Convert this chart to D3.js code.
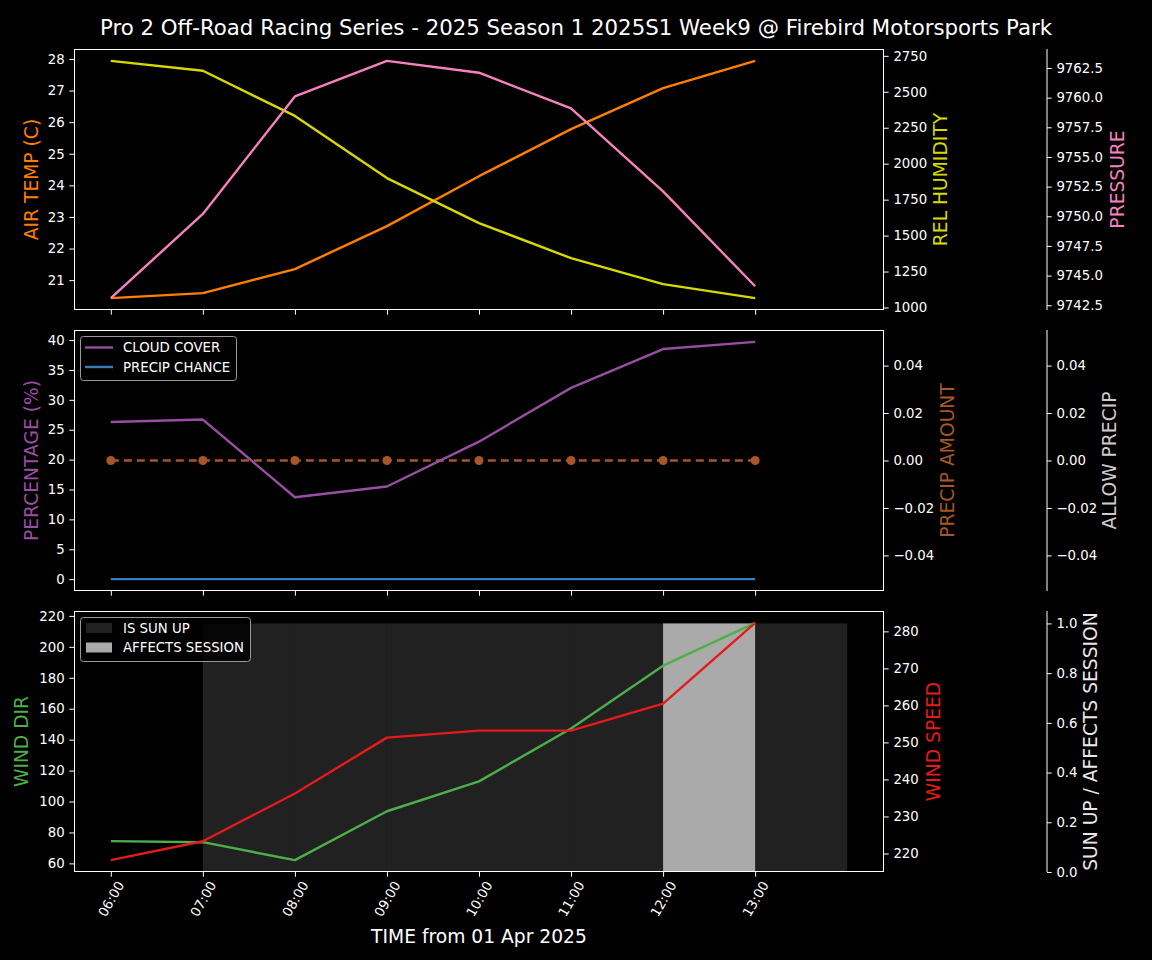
<!DOCTYPE html>
<html>
<head>
<meta charset="utf-8">
<script src="https://cdn.jsdelivr.net/npm/d3@7"></script>
<style>
  html, body { margin: 0; padding: 0; background: #000; }
  svg { display: block; }
  text { font-family: "DejaVu Sans", sans-serif; }
</style>
</head>
<body>
<svg id="chart" width="1152" height="960"></svg>
<script>
// ---------- data ----------
const hours = ["06:00","07:00","08:00","09:00","10:00","11:00","12:00","13:00"];
const airTemp = [20.43, 20.59, 21.35, 22.71, 24.29, 25.78, 27.08, 27.94];
const relHumidity = [2715, 2646, 2332, 1900, 1587, 1343, 1162, 1065];
const pressure = [9743.1, 9750.2, 9760.1, 9763.1, 9762.1, 9759.1, 9752.1, 9744.1];
const cloudCover = [26.3, 26.7, 13.7, 15.5, 23.0, 32.0, 38.5, 39.7];
const precipChance = [0, 0, 0, 0, 0, 0, 0, 0];
const precipAmount = [0, 0, 0, 0, 0, 0, 0, 0];
const windDir = [74.4, 73.7, 62.1, 93.7, 113.0, 147.2, 187.8, 215.5];
const windSpeed = [218.2, 223.3, 236.2, 251.3, 253.2, 253.2, 260.5, 282.3];
const sunUp = [0, 1, 1, 1, 1, 1, 1, 1];
const affectsSession = [0, 0, 0, 0, 0, 0, 1, 0];

const tempTicks = [21, 22, 23, 24, 25, 26, 27, 28];
const humidityTicks = [1000, 1250, 1500, 1750, 2000, 2250, 2500, 2750];
const pressureTicks = [9742.5, 9745, 9747.5, 9750, 9752.5, 9755, 9757.5, 9760, 9762.5];
const pctTicks = [0, 5, 10, 15, 20, 25, 30, 35, 40];
const precipTicks = [-0.04, -0.02, 0, 0.02, 0.04];
const windDirTicks = [60, 80, 100, 120, 140, 160, 180, 200, 220];
const windSpeedTicks = [220, 230, 240, 250, 260, 270, 280];
const sunTicks = [0, 0.2, 0.4, 0.6, 0.8, 1.0];

const title = "Pro 2 Off-Road Racing Series - 2025 Season 1 2025S1 Week9 @ Firebird Motorsports Park";
const xLabel = "TIME from 01 Apr 2025";

// ---------- colours ----------
const C = {
  temp: "#ff7f00", hum: "#d8d800", pres: "#f781bf",
  cloud: "#984ea3", pchance: "#377eb8", pamount: "#a65628", allow: "#cccccc",
  wdir: "#4daf4a", wspd: "#e41a1c", sun: "#212121", sess: "#aaaaaa", fg: "#ffffff"
};

// ---------- layout ----------
const L = 74, R = 884, AX3 = 1047;
const panelH = 261;
const tops = [49, 330, 611];
const idx = hours.map((d, i) => i);
const LW = 2.4, TICKFS = 13.3, LABFS = 18.7;

const svg = d3.select("#chart");
svg.append("rect").attr("width", 1152).attr("height", 960).attr("fill", "#000");

const x = d3.scaleLinear().domain([-0.4, hours.length + 0.4]).range([L, R]);

function padDomain(arrs, lo0) {
  const all = arrs.flat();
  let mn = d3.min(all), mx = d3.max(all);
  if (lo0 !== undefined) { mn = lo0; }
  if (mn === mx) { mn -= 0.05; mx += 0.05; }
  const m = (mx - mn) * 0.05;
  return [lo0 !== undefined ? lo0 : mn - m, mx + m];
}

const TL = 4.7, TP = 4.7;
function styleAxis(g) {
  g.selectAll(".tick line").attr("stroke", C.fg).attr("stroke-width", 1);
  g.selectAll(".tick text").attr("fill", C.fg).attr("font-size", TICKFS).attr("font-family", "DejaVu Sans");
  g.select(".domain").remove();
}

function ylabel(text, cx, cy, color) {
  svg.append("text").text(text)
    .attr("transform", `translate(${cx},${cy}) rotate(-90)`)
    .attr("text-anchor", "middle").attr("dy", "0.35em")
    .attr("font-size", LABFS).attr("fill", color);
}

function line(g, data, y, color, extra) {
  const p = g.append("path").datum(idx)
    .attr("d", d3.line().x(i => x(i)).y(i => y(data[i])))
    .attr("fill", "none").attr("stroke", color).attr("stroke-width", LW)
    .attr("stroke-linejoin", "round");
  if (extra) extra(p);
  return p;
}

function panelFrame(top, yl, ylTicks, ylFmt, yr, yrTicks, yrFmt, y3, y3Ticks, y3Fmt, showX) {
  const bottom = top + panelH;
  const gL = svg.append("g").attr("transform", `translate(${L},0)`)
    .call(d3.axisLeft(yl).tickValues(ylTicks).tickFormat(ylFmt).tickSize(TL).tickPadding(TP));
  styleAxis(gL);
  const gR = svg.append("g").attr("transform", `translate(${R},0)`)
    .call(d3.axisRight(yr).tickValues(yrTicks).tickFormat(yrFmt).tickSize(TL).tickPadding(TP));
  styleAxis(gR);
  const g3 = svg.append("g").attr("transform", `translate(${AX3},0)`)
    .call(d3.axisRight(y3).tickValues(y3Ticks).tickFormat(y3Fmt).tickSize(TL).tickPadding(TP));
  styleAxis(g3);
  svg.append("line").attr("x1", AX3).attr("x2", AX3).attr("y1", top).attr("y2", bottom)
    .attr("stroke", C.fg).attr("stroke-width", 1);
  const gx = svg.append("g").attr("transform", `translate(0,${bottom})`)
    .call(d3.axisBottom(x).tickValues(idx).tickFormat(showX ? (i => hours[i]) : () => "").tickSize(TL).tickPadding(TP));
  styleAxis(gx);
  if (showX) {
    gx.selectAll(".tick text")
      .attr("text-anchor", "middle")
      .attr("y", 0).attr("dy", 0)
      .attr("dominant-baseline", "central")
      .attr("transform", "translate(0,27) rotate(-60)");
  }
}

function frameBox(top) {
  svg.append("rect").attr("x", L + 0.5).attr("y", top + 0.5)
    .attr("width", R - L - 1).attr("height", panelH - 1)
    .attr("fill", "none").attr("stroke", C.fg).attr("stroke-width", 1);
}

// ---------- title ----------
svg.append("text").text(title).attr("x", 576).attr("y", 35)
  .attr("text-anchor", "middle").attr("font-size", 21.3).attr("fill", C.fg);

// ---------- panel 1 ----------
{
  const top = tops[0], bottom = top + panelH;
  const yT = d3.scaleLinear().domain(padDomain([airTemp])).range([bottom, top]);
  const yH = d3.scaleLinear().domain(padDomain([relHumidity])).range([bottom, top]);
  const yP = d3.scaleLinear().domain(padDomain([pressure])).range([bottom, top]);
  panelFrame(top, yT, tempTicks, d3.format("d"), yH, humidityTicks, d3.format("d"), yP, pressureTicks, d3.format(".1f"), false);
  const g = svg.append("g");
  line(g, airTemp, yT, C.temp);
  line(g, relHumidity, yH, C.hum);
  line(g, pressure, yP, C.pres);
  frameBox(top);
  const cy = top + panelH / 2;
  ylabel("AIR TEMP (C)", 31, cy, C.temp);
  ylabel("REL HUMIDITY", 940, cy, C.hum);
  ylabel("PRESSURE", 1117, cy, C.pres);
}

// ---------- panel 2 ----------
{
  const top = tops[1], bottom = top + panelH;
  const yC = d3.scaleLinear().domain(padDomain([cloudCover, precipChance])).range([bottom, top]);
  const yA = d3.scaleLinear().domain(padDomain([precipAmount])).range([bottom, top]);
  panelFrame(top, yC, pctTicks, d3.format("d"), yA, precipTicks, d3.format(".2f"), yA, precipTicks, d3.format(".2f"), false);
  const g = svg.append("g");
  line(g, precipAmount, yA, C.pamount, p => p.attr("stroke-dasharray", "8,5"));
  g.selectAll("circle.pa").data(idx).join("circle")
    .attr("cx", i => x(i)).attr("cy", i => yA(precipAmount[i])).attr("r", 4.5)
    .attr("fill", C.pamount);
  line(g, cloudCover, yC, C.cloud);
  line(g, precipChance, yC, C.pchance);
  frameBox(top);
  const cy = top + panelH / 2;
  ylabel("PERCENTAGE (%)", 31, cy, C.cloud);
  ylabel("PRECIP AMOUNT", 947, cy, C.pamount);
  ylabel("ALLOW PRECIP", 1109, cy, C.allow);
  // legend
  const lg = svg.append("g");
  lg.append("rect").attr("x", 80.5).attr("y", 336.5).attr("width", 156).attr("height", 44)
    .attr("rx", 3).attr("fill", "#000").attr("fill-opacity", 0.8).attr("stroke", "#999").attr("stroke-width", 1);
  [["CLOUD COVER", C.cloud, 347.5], ["PRECIP CHANCE", C.pchance, 367]].forEach(([t, c, yy]) => {
    lg.append("line").attr("x1", 85).attr("x2", 113).attr("y1", yy).attr("y2", yy)
      .attr("stroke", c).attr("stroke-width", LW);
    lg.append("text").text(t).attr("x", 123).attr("y", yy).attr("dy", "0.35em")
      .attr("font-size", 13.3).attr("fill", C.fg);
  });
}

// ---------- panel 3 ----------
{
  const top = tops[2], bottom = top + panelH;
  const yD = d3.scaleLinear().domain(padDomain([windDir])).range([bottom, top]);
  const yS = d3.scaleLinear().domain(padDomain([windSpeed])).range([bottom, top]);
  const yB = d3.scaleLinear().domain(padDomain([sunUp, affectsSession], 0)).range([bottom, top]);
  const g = svg.append("g");
  g.selectAll("rect.sun").data(idx.filter(i => sunUp[i] > 0)).join("rect")
    .attr("x", i => x(i)).attr("width", i => x(i + 1) - x(i))
    .attr("y", i => yB(sunUp[i])).attr("height", i => yB(0) - yB(sunUp[i]))
    .attr("fill", C.sun);
  g.selectAll("rect.sess").data(idx.filter(i => affectsSession[i] > 0)).join("rect")
    .attr("x", i => x(i)).attr("width", i => x(i + 1) - x(i))
    .attr("y", i => yB(affectsSession[i])).attr("height", i => yB(0) - yB(affectsSession[i]))
    .attr("fill", C.sess);
  panelFrame(top, yD, windDirTicks, d3.format("d"), yS, windSpeedTicks, d3.format("d"), yB, sunTicks, d3.format(".1f"), true);
  line(g, windDir, yD, C.wdir);
  line(g, windSpeed, yS, C.wspd);
  frameBox(top);
  const cy = top + panelH / 2;
  ylabel("WIND DIR", 21, cy, C.wdir);
  ylabel("WIND SPEED", 933, cy, C.wspd);
  ylabel("SUN UP / AFFECTS SESSION", 1090, cy, "#e8e8e8");
  const lg = svg.append("g");
  lg.append("rect").attr("x", 80.5).attr("y", 617.5).attr("width", 170).attr("height", 44)
    .attr("rx", 3).attr("fill", "#000").attr("fill-opacity", 0.8).attr("stroke", "#999").attr("stroke-width", 1);
  [["IS SUN UP", C.sun, 628], ["AFFECTS SESSION", C.sess, 647.5]].forEach(([t, c, yy]) => {
    lg.append("rect").attr("x", 86).attr("y", yy - 5).attr("width", 26).attr("height", 10).attr("fill", c);
    lg.append("text").text(t).attr("x", 123).attr("y", yy).attr("dy", "0.35em")
      .attr("font-size", 13.3).attr("fill", C.fg);
  });
}

// ---------- x label ----------
svg.append("text").text(xLabel).attr("x", (L + R) / 2).attr("y", 943)
  .attr("text-anchor", "middle").attr("font-size", LABFS).attr("fill", C.fg);
</script>
</body>
</html>
